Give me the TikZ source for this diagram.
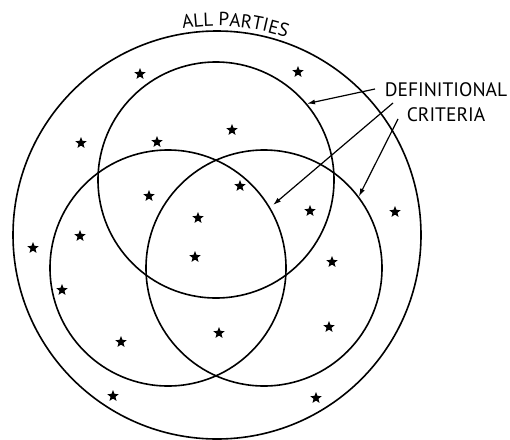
\documentclass[tikz,border=0pt]{standalone}
\usepackage{fontspec}
\newfontfamily\labelfont{PT Sans}
\usetikzlibrary{shapes.geometric,arrows.meta,decorations.text}

\begin{document}
\begin{tikzpicture}[
  x=1pt, y=1pt,
  ring/.style={circle, draw, line width=1.6pt, inner sep=0pt},
  mark star/.style={star, star points=5, star point ratio=2.3, fill=black,
    inner sep=0pt, minimum size=12pt},
  pointer/.style={-{Latex[length=8pt,width=5pt]}, line width=1.2pt},
]
\useasboundingbox (0,0) rectangle (510,-439);

% the four sets
\node[ring, minimum size=408pt] (all) at (217,-235) {};
\node[ring, minimum size=236pt] (top) at (216,-180) {};
\node[ring, minimum size=236pt] (left) at (168,-268) {};
\node[ring, minimum size=236pt] (right) at (264,-268) {};

% label bent along the outer ring
\path[decorate, decoration={text along path, text align=center,
    text={|\labelfont\fontsize{19}{22}\selectfont|ALL PARTIES}}]
  (all.center) ++(101:209) arc[start angle=101, end angle=69, radius=209];

% the parties
\foreach \p [count=\n] in {(140,-74), (298,-72), (81,-143), (157,-142),
    (232,-130), (240,-186), (149,-196), (198,-218), (195,-257), (80,-236),
    (33,-248), (62,-290), (121,-342), (219,-333), (310,-211), (395,-212),
    (332,-262), (329,-327), (113,-396), (316,-398)}
  \node[mark star] (party\n) at \p {};

% criteria label and its pointers
\node[font=\labelfont\fontsize{19.5}{25}\selectfont, align=center, inner sep=0pt]
  (crit) at (446,-102) {DEFINITIONAL\\CRITERIA};
\coordinate (from1) at (375,-89);
\coordinate (from2) at (393,-103);
\coordinate (from3) at (398,-119);
\coordinate (core) at (273,-205);
\draw[pointer] (from1) -- (top.40);
\draw[pointer] (from2) -- (core);
\draw[pointer] (from3) -- (right.37);
\end{tikzpicture}
\end{document}
